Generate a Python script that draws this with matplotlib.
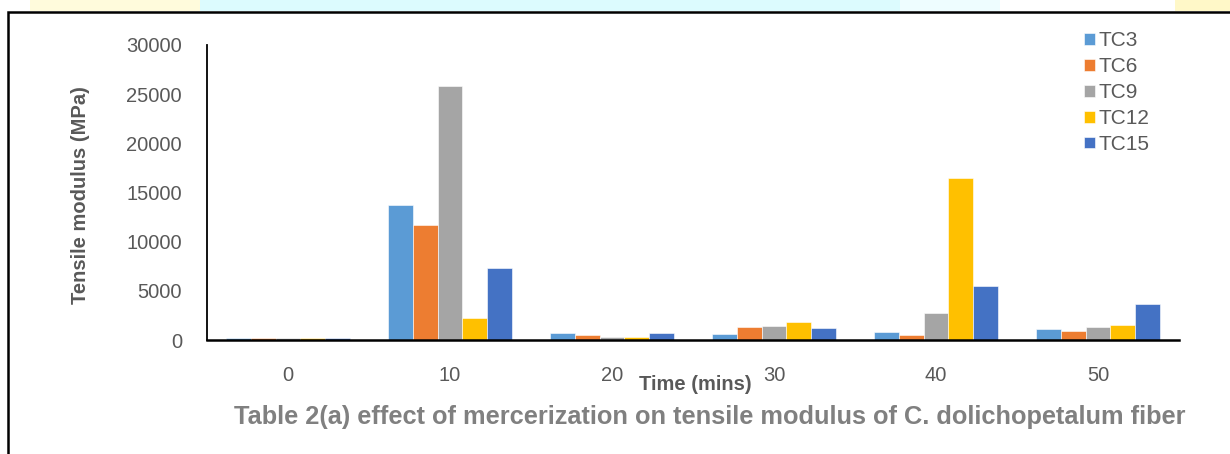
import numpy as np
import matplotlib.pyplot as plt
from matplotlib.patches import Rectangle

# Tensile modulus (MPa) per treatment time, one list per fiber series
TIMES = ['0', '10', '20', '30', '40', '50']
SERIES = ['TC3', 'TC6', 'TC9', 'TC12', 'TC15']
TC3 = [200, 13700, 700, 600, 800, 1100]
TC6 = [200, 11700, 500, 1300, 500, 900]
TC9 = [200, 25800, 300, 1400, 2700, 1350]
TC12 = [200, 2200, 350, 1850, 16450, 1500]
TC15 = [200, 7350, 700, 1250, 5500, 3700]

COLOURS = ['#5B9BD5', '#ED7D31', '#A5A5A5', '#FFC000', '#4472C4']
TEXT_GREY = '#595959'

plt.rcParams['font.family'] = ['Liberation Sans', 'DejaVu Sans']

fig = plt.figure(figsize=(12.3, 4.54), dpi=100)

# faint coloured strip above the frame
strip = fig.add_axes([0, 1 - 11 / 454, 1, 11 / 454])
strip.axis('off')
strip.set_xlim(0, 1230)
strip.set_ylim(0, 1)
for x0, x1, c in [(30, 200, '#fffbdc'), (200, 900, '#dcfbfe'), (900, 1000, '#eefdff'),
                  (1175, 1230, '#fff8c8')]:
    strip.add_patch(Rectangle((x0, 0), x1 - x0, 1, color=c, lw=0))

# outer frame
fig.add_artist(Rectangle((8 / 1230, -0.05), 1.1, 1.05 - 12 / 454, transform=fig.transFigure,
                         fill=False, edgecolor='black', lw=1.8))

ax = fig.add_axes([207 / 1230, 1 - 340 / 454, (1179 - 207) / 1230, (340 - 45) / 454])

data = [TC3, TC6, TC9, TC12, TC15]
x = np.arange(len(TIMES))
width = 0.153
for i, (name, vals) in enumerate(zip(SERIES, data)):
    ax.bar(x + (i - 2) * width, vals, width, color=COLOURS[i], label=name,
           edgecolor='white', linewidth=0.4)

ax.set_xlim(-0.5, len(TIMES) - 0.5)
ax.set_ylim(0, 30000)
ax.set_yticks(range(0, 30001, 5000))
ax.set_xticks(x)
ax.set_xticklabels(TIMES)
ax.tick_params(length=0, labelsize=14.5, colors=TEXT_GREY)
ax.tick_params(axis='y', pad=18)
ax.tick_params(axis='x', pad=19)
for s in ['top', 'right']:
    ax.spines[s].set_visible(False)
ax.spines['left'].set_linewidth(1.3)
ax.spines['bottom'].set_linewidth(1.8)

ax.set_ylabel('Tensile modulus (MPa)', fontsize=14.5, fontweight='bold', color=TEXT_GREY)
ax.yaxis.set_label_coords(-0.1204, 0.49)
fig.text(695 / 1230, 1 - 385 / 454, 'Time (mins)', fontsize=14.5, fontweight='bold',
         color=TEXT_GREY, ha='center', va='center')
fig.text(710 / 1230, 1 - 417 / 454,
         'Table 2(a) effect of mercerization on tensile modulus of C. dolichopetalum fiber',
         fontsize=18.3, fontweight='bold', color='#808080', ha='center', va='center')

ax.legend(loc='upper left', bbox_to_anchor=(1076 / 1230, 1 - 23 / 454), bbox_transform=fig.transFigure,
          frameon=False, fontsize=15, handlelength=0.5, handleheight=0.5, handletextpad=0.2,
          labelspacing=0.33, labelcolor=TEXT_GREY, borderaxespad=0)

fig.savefig('out.png', dpi=100)
